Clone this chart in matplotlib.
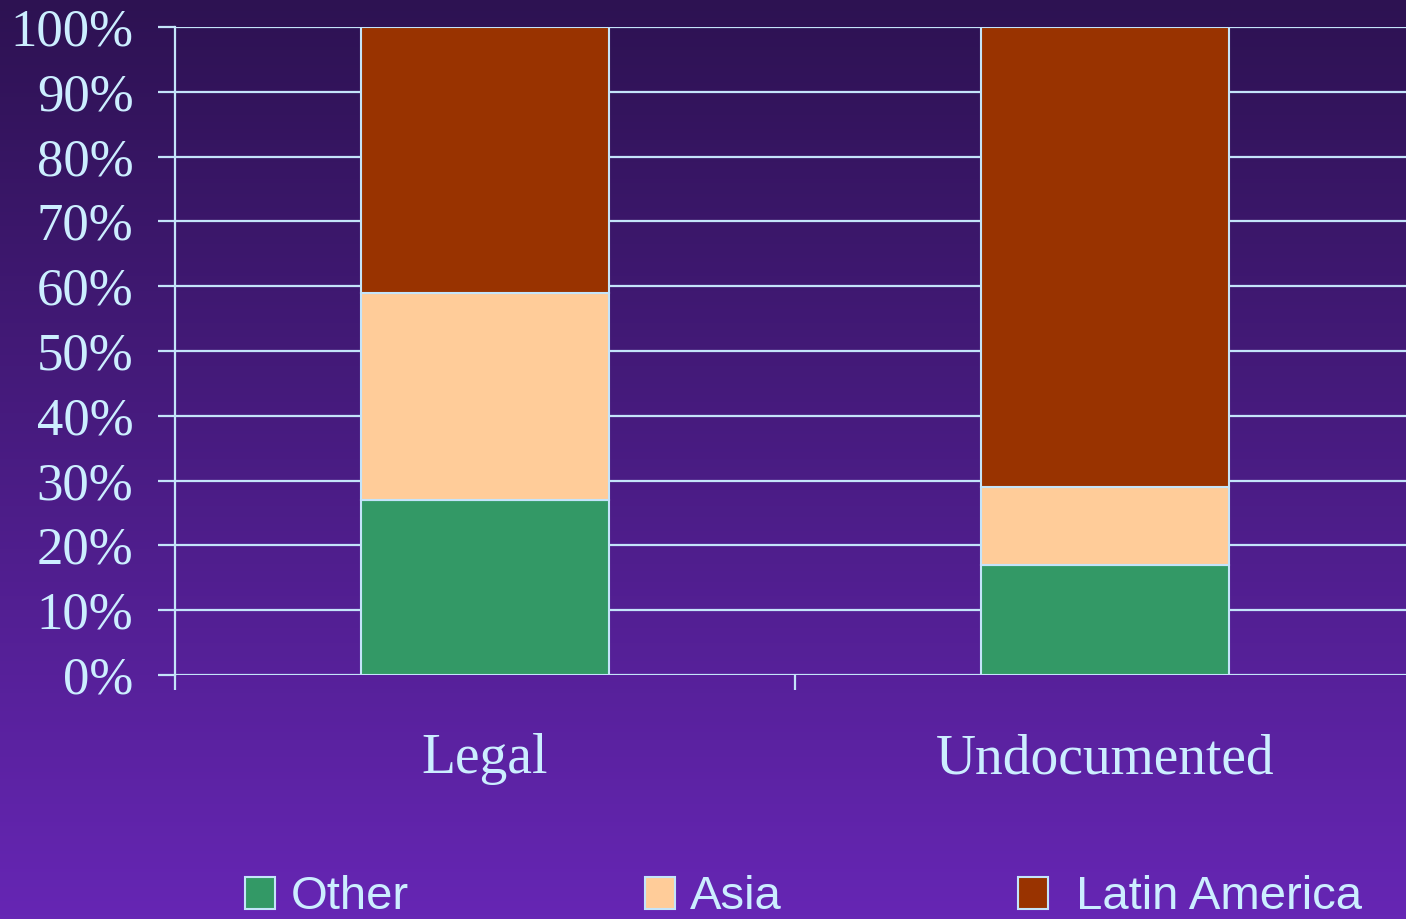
import numpy as np
import matplotlib.pyplot as plt
from matplotlib.colors import LinearSegmentedColormap
from matplotlib.font_manager import FontProperties

# data (percent of each group)
categories = ["Legal", "Undocumented"]
other = [27, 17]
asia = [32, 12]
latin = [41, 71]
series_names = ["Other", "Asia", " Latin America"]
series_colors = ["#339966", "#ffcc99", "#993300"]

txt = "#cceeff"
grid = "#c4e4fa"

fig = plt.figure(figsize=(14.06, 9.19), dpi=100)

# gradient background
bg = fig.add_axes([0, 0, 1, 1], zorder=-10)
cmap = LinearSegmentedColormap.from_list("bg", ["#2d1252", "#6626b4"])
bg.imshow(np.linspace(0, 1, 256).reshape(-1, 1), aspect="auto", cmap=cmap,
          extent=[0, 1, 0, 1])
bg.axis("off")

ax = fig.add_axes([0.1245, 0.2655, 0.882, 0.7051])
ax.set_facecolor("none")

x = np.arange(len(categories))
w = 0.4
bottoms = np.zeros(len(categories))
handles = []
for vals, name, col in zip([other, asia, latin], series_names, series_colors):
    b = ax.bar(x, vals, w, bottom=bottoms, color=col, edgecolor=grid,
               linewidth=1.5, label=name, zorder=3)
    handles.append(b)
    bottoms += np.array(vals)

ax.set_xlim(-0.5, 1.5)
ax.set_ylim(0, 100)
ax.set_yticks(np.arange(0, 101, 10))
ax.set_yticklabels([f"{v}%" for v in range(0, 101, 10)],
                   fontfamily="Liberation Serif", fontsize=38, color=txt)
ax.yaxis.grid(True, color=grid, linewidth=1.6, zorder=1)
ax.set_axisbelow(True)

# category boundaries as ticks, labels centred on bars
ax.set_xticks([-0.5, 0.5, 1.5])
ax.set_xticklabels([])
ax.set_xticks(x, minor=True)
ax.set_xticklabels(categories, minor=True, fontfamily="Liberation Serif",
                   fontsize=40, color=txt)
ax.tick_params(axis="x", which="minor", length=0, pad=42)
ax.tick_params(axis="x", which="major", length=11, width=1.6, color=grid,
               direction="out")
ax.tick_params(axis="y", length=12, width=1.6, color=grid, pad=18)

for s in ["top", "right", "bottom"]:
    ax.spines[s].set_visible(False)
ax.spines["left"].set_color(grid)
ax.spines["left"].set_linewidth(1.6)

lp = FontProperties(family="Liberation Sans", size=34)
leg = fig.legend(handles=handles, loc="upper left", bbox_to_anchor=(0.1743, 0.0475),
                 ncol=3, frameon=False, prop=lp, borderpad=0, borderaxespad=0,
                 handlelength=0.64, handleheight=0.66, handletextpad=0.32,
                 columnspacing=5.0)
for t in leg.get_texts():
    t.set_color(txt)

fig.savefig("out.png", dpi=100)
